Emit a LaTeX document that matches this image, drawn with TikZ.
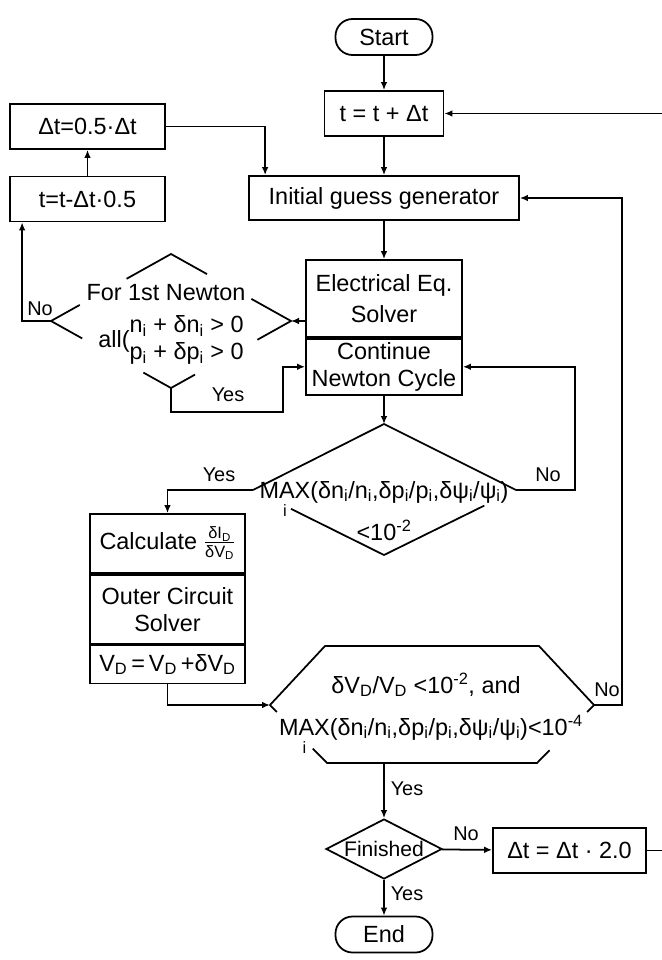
\documentclass[tikz,border=0pt]{standalone}
\usepackage{amsmath}
\usepackage{fontspec}
\setmainfont{Liberation Sans}
\usetikzlibrary{arrows.meta,positioning,calc,shapes.geometric}
\newlength\pxu
\setlength\pxu{0.03cm}
\newcommand\maxi{\(\underset{\text{\raisebox{-3pt}{i}}}{\text{MAX}}\)}

\begin{document}
\begin{tikzpicture}[
  x=0.03cm, y=-0.03cm,
  font=\fontsize{20}{23}\selectfont,
  line width=1.5pt,
  blk/.style={draw, minimum width=155\pxu, minimum height=45\pxu,
              align=center, inner sep=2pt},
  term/.style={draw, rounded corners=17\pxu, minimum width=97\pxu, minimum height=36\pxu,
               inner sep=1pt},
  dec/.style={draw, diamond, aspect=2, minimum width=116\pxu, minimum height=60\pxu,
              inner sep=0pt, font=\fontsize{18}{20}\selectfont},
  lbl/.style={font=\fontsize{17}{19}\selectfont, inner sep=1pt},
  ar/.style={-{Latex[length=2.4mm, width=2mm]}},
]
\useasboundingbox (0,0) rectangle (661,960);

%% ---------- time step ----------
\node[term] (start) at (384,37) {Start};
\node[blk, minimum width=119\pxu] (tstep) at (384,113.5) {t = t + Δt};
\node[blk] (halve) at (87.5,126.5) {Δt=0.5·Δt};
\node[blk] (tback) at (87.5,199) {t=t-Δt·0.5};
\node[blk, minimum width=270\pxu, minimum height=44\pxu] (init) at (384,198) {Initial guess generator};

%% ---------- Newton loop ----------
\node[blk, minimum width=156\pxu, minimum height=77\pxu] (elec) at (384,298.5) {Electrical Eq.\\[3pt]Solver};
\node[blk, minimum width=156\pxu, minimum height=56\pxu, below=0pt of elec] (cont) {Continue\\Newton Cycle};

% first Newton check (broken diamond)
\coordinate (nT) at (171,254);
\coordinate (nL) at (51,321);
\coordinate (nR) at (291,321);
\coordinate (nB) at (171,388);
\coordinate (nY) at (283,412);
\draw ($(nT)!0.37!(nL)$) -- (nT) -- ($(nT)!0.30!(nR)$);
\draw ($(nL)!0.24!(nT)$) -- (nL) -- ($(nL)!0.26!(nB)$);
\draw ($(nR)!0.33!(nT)$) -- (nR) -- ($(nR)!0.28!(nB)$);
\draw ($(nB)!0.23!(nL)$) -- (nB) -- ($(nB)!0.20!(nR)$);
\node (nq1) at (166,293) {For 1st Newton};
\node (nq2) at (171,341) {all(\begin{tabular}{@{}l@{}}n\textsubscript{i} + δn\textsubscript{i} > 0\\p\textsubscript{i} + δp\textsubscript{i} > 0\end{tabular}};

% convergence check
\coordinate (mT) at (384,424);
\coordinate (mL) at (253,490);
\coordinate (mR) at (516,490);
\coordinate (mB) at (384,555);
\draw (mL) -- (mT) -- (mR);
\draw ($(mL)!0.29!(mB)$) -- (mB) -- ($(mR)!0.24!(mB)$);
\node[anchor=base] (mq1) at (384,498) {\maxi(δn\textsubscript{i}/n\textsubscript{i},δp\textsubscript{i}/p\textsubscript{i},δψ\textsubscript{i}/ψ\textsubscript{i})};
\node (mq2) at (384,530) {<10\textsuperscript{-2}};

%% ---------- outer circuit ----------
\node[blk, minimum height=59\pxu] (dIdV) at (167.5,543.5) {Calculate \(\frac{\text{δI\textsubscript{D}}}{\text{δV\textsubscript{D}}}\)};
\node[blk, minimum height=69\pxu, below=0pt of dIdV] (outer) {Outer Circuit\\Solver};
\node[blk, minimum height=38\pxu, below=0pt of outer] (vupd) {V\textsubscript{D}\,=\,V\textsubscript{D}\,+δV\textsubscript{D}};

% time step check (hexagon)
\coordinate (hL) at (270,705);
\coordinate (hTL) at (325,646);
\coordinate (hTR) at (539,646);
\coordinate (hR) at (594,705);
\coordinate (hBR) at (537,763);
\coordinate (hBL) at (327,763);
\coordinate (hB) at (384,763);
\draw ($(hL)!0.12!(hBL)$) -- (hL) -- (hTL) -- (hTR) -- (hR) -- ($(hR)!0.12!(hBR)$);
\draw ($(hBL)!0.25!(hL)$) -- (hBL) -- (hBR) -- ($(hBR)!0.22!(hR)$);
\node (hq1) at (426,685) {δV\textsubscript{D}/V\textsubscript{D} <10\textsuperscript{-2}, and};
\node[anchor=base] (hq2) at (431,735) {\maxi(δn\textsubscript{i}/n\textsubscript{i},δp\textsubscript{i}/p\textsubscript{i},δψ\textsubscript{i}/ψ\textsubscript{i})<10\textsuperscript{-4}};

\node[dec] (fin) at (384,849) {Finished};
\node[blk, minimum width=153\pxu] (tdbl) at (569.5,850.5) {Δt = Δt · 2.0};
\node[term] (end) at (384,934.5) {End};

%% ---------- connectors ----------
\foreach \a/\b in {start/tstep, tstep/init, init/elec, tback/halve, fin/tdbl, fin/end}{\draw[ar] (\a) -- (\b);}
\draw[ar] (halve.east) -| ([xshift=17\pxu]init.north west);
\draw[ar] (elec.west |- nR) -- (nR);
\draw[ar] (nL) -| ([xshift=13\pxu]tback.south west);
\draw[ar] (nB) |- (nY) |- (cont.west);
\draw[ar] (cont) -- (mT);
\draw[ar] (mR) -- ++(59,0) |- (cont.east);
\draw[ar] (mL) -| (dIdV.north);
\draw[ar] (vupd.south) |- (hL);
\draw[ar] (hR) -- ++(28,0) |- (init.east);
\draw[ar] (hB) -- (fin);
\draw[ar] (tdbl.east) -- ++(19,0) |- (tstep.east);

\node[lbl] (no1) at (40,309) {No};
\node[lbl] (yes1) at (228,395) {Yes};
\node[lbl] (yes2) at (219,475) {Yes};
\node[lbl] (no2) at (548,475) {No};
\node[lbl] (no3) at (607,690) {No};
\node[lbl] (yes3) at (407,789) {Yes};
\node[lbl] (no4) at (466,834) {No};
\node[lbl] (yes4) at (407,894) {Yes};
\end{tikzpicture}
\end{document}
